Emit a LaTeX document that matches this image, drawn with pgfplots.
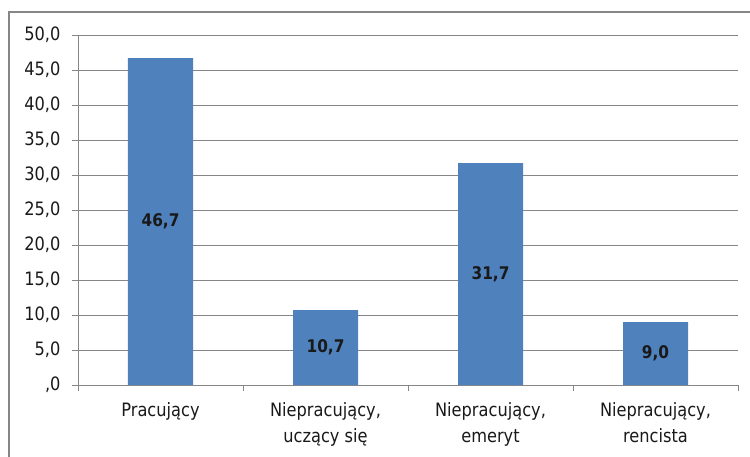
\documentclass[border=0pt]{standalone}
\usepackage{fontspec}
\setmainfont{DejaVu Sans}[FakeStretch=0.88]
\usepackage{pgfplots}
\pgfplotsset{compat=1.18}
\definecolor{barblue}{HTML}{4F81BD}
\definecolor{gridgray}{HTML}{868686}
\begin{document}
\begin{tikzpicture}
\begin{axis}[
  name=ax, anchor=south west,
  scale only axis, width=660bp, height=350bp,
  xmin=-0.5, xmax=3.5, ymin=0, ymax=50,
  axis x line*=bottom, axis y line*=left,
  axis line style={gridgray, line width=0.8bp, -},
  ymajorgrids, major grid style={gridgray, line width=0.8bp},
  ytick={0,5,...,50},
  yticklabels={{,0},{5,0},{10,0},{15,0},{20,0},{25,0},{30,0},{35,0},{40,0},{45,0},{50,0}},
  xtick={0,1,2,3},
  xticklabels={Pracujący,{Niepracujący,\\uczący się},{Niepracujący,\\emeryt},{Niepracujący,\\rencista}},
  xticklabel style={align=center, yshift=-8bp},
  yticklabel style={xshift=-8bp},
  ticklabel style={font=\fontsize{18.5}{26}\selectfont, text=black!90},
  major x tick style={draw=none},
  minor xtick={-0.5,0.5,1.5,2.5,3.5},
  minor x tick style={gridgray, line width=0.8bp},
  minor tick length=6bp,
  major tick length=6bp,
  tick align=outside,
  ytick style={gridgray, line width=0.8bp},
  clip=false,
]
\addplot[ybar, bar width=65bp, fill=barblue, draw=none]
  coordinates {(0,46.7) (1,10.7) (2,31.7) (3,9.0)};
\addplot[draw=none, mark=none, nodes near coords, point meta=explicit symbolic,
  nodes near coords style={anchor=center, font=\fontsize{17.5}{20}\selectfont\bfseries, text=black!90}]
  coordinates {(0,23.35)[46,7] (1,5.35)[10,7] (2,15.85)[31,7] (3,4.5)[9,0]};
\end{axis}
\pgfresetboundingbox
\useasboundingbox ([shift={(-78bp,-72bp)}]ax.south west) rectangle ++(750bp,457bp);
\draw[gridgray, line width=2bp] ([shift={(-69bp,-100bp)}]ax.south west) |- ++(800bp,473bp);
\end{tikzpicture}
\end{document}
